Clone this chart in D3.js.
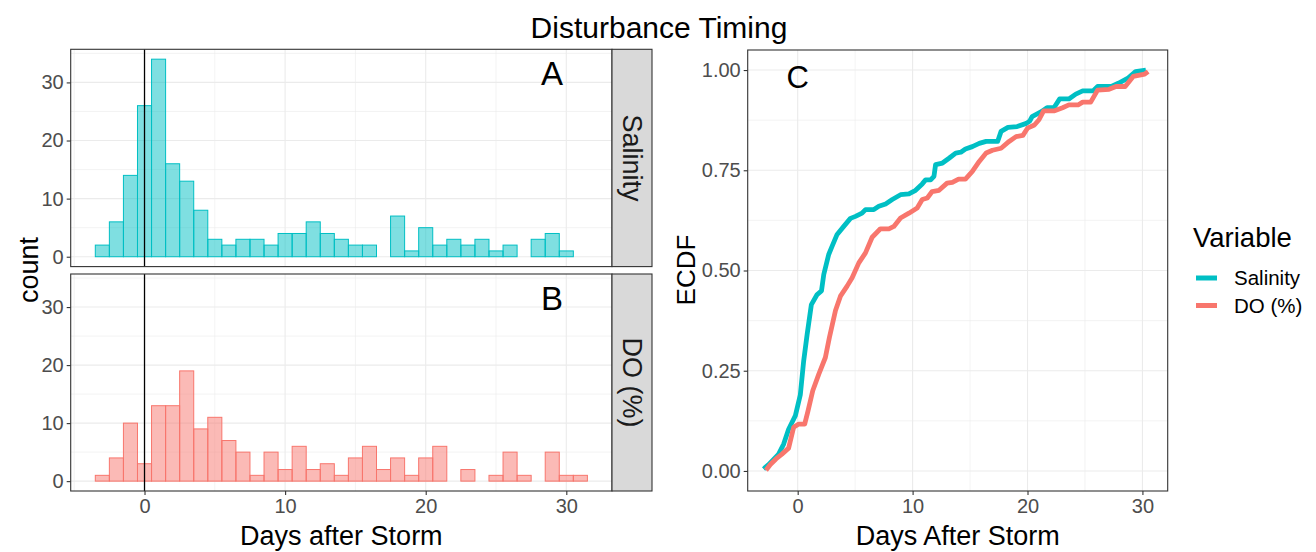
<!DOCTYPE html>
<html>
<head>
<meta charset="utf-8">
<title>Disturbance Timing</title>
<script src="https://cdn.jsdelivr.net/npm/d3@7"></script>
<style>
  body { margin: 0; background: #fff; }
  text { font-family: "Liberation Sans", Arial, sans-serif; }
</style>
</head>
<body>
<script>
// histogram bins: one day wide, starting at -3.5 days
var binStart = -3.5, binWidth = 1;
var salinityCounts = [2, 6, 14, 26, 34, 16, 13, 8, 3, 2, 3, 3, 2, 4, 4, 6, 4, 3, 2, 2, 0, 7, 1, 5, 2, 3, 2, 3, 1, 2, 0, 3, 4, 1, 0];
var doCounts = [1, 4, 10, 3, 13, 13, 19, 9, 11, 7, 5, 1, 5, 2, 6, 2, 3, 1, 4, 6, 2, 4, 1, 4, 6, 0, 2, 0, 1, 5, 1, 0, 5, 1, 1];

// ECDF curves
var salinityDays = [-2.97, -2.53, -1.66, -1.22, -0.79, -0.2, 0.23, 0.52, 0.82, 1.19, 1.69, 2.07, 2.27, 2.7, 2.99, 3.43, 4.01, 4.59, 5.03, 5.6, 5.9, 6.63, 7.06, 7.65, 8.23, 8.95, 9.68, 10.26, 10.84, 11.13, 11.57, 11.86, 12.0, 12.6, 13.17, 13.75, 14.2, 14.6, 15.2, 15.8, 16.4, 17.4, 17.7, 18.3, 19.1, 19.9, 20.2, 20.4, 21.2, 21.7, 22.3, 22.8, 23.6, 24.2, 24.8, 25.7, 26.1, 27.3, 27.9, 28.7, 29.4, 30.3];
var salinityEcdf = [0.005, 0.016, 0.042, 0.067, 0.104, 0.138, 0.19, 0.274, 0.34, 0.415, 0.44, 0.449, 0.49, 0.54, 0.56, 0.59, 0.61, 0.63, 0.635, 0.643, 0.652, 0.652, 0.66, 0.666, 0.677, 0.689, 0.691, 0.70, 0.716, 0.726, 0.726, 0.735, 0.764, 0.768, 0.78, 0.793, 0.795, 0.803, 0.809, 0.817, 0.822, 0.822, 0.847, 0.857, 0.859, 0.867, 0.873, 0.884, 0.896, 0.906, 0.906, 0.928, 0.928, 0.94, 0.948, 0.948, 0.959, 0.959, 0.967, 0.979, 0.996, 1.0];
var doDays = [-2.76, -2.38, -1.89, -1.37, -0.79, -0.35, 0.09, 0.61, 0.9, 1.31, 1.83, 2.41, 2.76, 3.29, 3.72, 4.3, 4.74, 5.32, 5.9, 6.48, 7.2, 7.94, 8.37, 8.95, 9.68, 10.4, 10.84, 11.28, 11.7, 12.3, 13.0, 13.46, 14.0, 14.6, 15.2, 15.8, 16.4, 16.95, 17.7, 18.4, 19.0, 19.6, 20.0, 20.6, 21.0, 21.4, 22.3, 23.05, 23.6, 24.4, 24.8, 25.5, 26.1, 27.1, 27.7, 28.5, 29.2, 30.2, 30.5];
var doEcdf = [0.002, 0.016, 0.03, 0.042, 0.057, 0.109, 0.117, 0.117, 0.15, 0.2, 0.241, 0.283, 0.333, 0.4, 0.436, 0.461, 0.482, 0.519, 0.544, 0.583, 0.604, 0.604, 0.61, 0.631, 0.643, 0.656, 0.677, 0.681, 0.697, 0.70, 0.718, 0.72, 0.728, 0.728, 0.747, 0.772, 0.793, 0.8, 0.805, 0.822, 0.834, 0.837, 0.855, 0.863, 0.876, 0.898, 0.898, 0.906, 0.913, 0.913, 0.92, 0.92, 0.95, 0.952, 0.959, 0.959, 0.984, 0.99, 0.996];

var variables = ["Salinity", "DO (%)"];
var colors = ["#00BFC4", "#F8766D"];
var panelLetters = ["A", "B"];

var W = 1316, H = 552;
var svg = d3.select("body").append("svg").attr("width", W).attr("height", H);

var gridCol = "#ebebeb", borderCol = "#333333", tickCol = "#4d4d4d";

// ---- histograms ----
var hx = d3.scaleLinear().domain([-5.25, 33.25]).range([70.7, 612]);
var panels = [{top: 49.3, bottom: 266.6}, {top: 274, bottom: 491}];
var countsList = [salinityCounts, doCounts];

panels.forEach(function(p, k) {
    var y = d3.scaleLinear().domain([-1.7, 35.7]).range([p.bottom, p.top]);
    var g = svg.append("g");
    g.append("rect").attr("x", hx.range()[0]).attr("y", p.top)
        .attr("width", hx.range()[1] - hx.range()[0]).attr("height", p.bottom - p.top).attr("fill", "#fff");
    // minor grid
    [-5, 5, 15, 25].forEach(function(v) {
        g.append("line").attr("x1", hx(v)).attr("x2", hx(v)).attr("y1", p.top).attr("y2", p.bottom)
            .attr("stroke", gridCol).attr("stroke-width", 0.6);
    });
    [5, 15, 25, 35].forEach(function(v) {
        g.append("line").attr("x1", hx.range()[0]).attr("x2", hx.range()[1]).attr("y1", y(v)).attr("y2", y(v))
            .attr("stroke", gridCol).attr("stroke-width", 0.6);
    });
    // major grid
    [0, 10, 20, 30].forEach(function(v) {
        g.append("line").attr("x1", hx(v)).attr("x2", hx(v)).attr("y1", p.top).attr("y2", p.bottom)
            .attr("stroke", gridCol).attr("stroke-width", 1.1);
        g.append("line").attr("x1", hx.range()[0]).attr("x2", hx.range()[1]).attr("y1", y(v)).attr("y2", y(v))
            .attr("stroke", gridCol).attr("stroke-width", 1.1);
    });
    // bars
    var bins = countsList[k].map(function(c, i) {
        return {x0: binStart + i * binWidth, x1: binStart + (i + 1) * binWidth, n: c};
    });
    g.selectAll("rect.bar").data(bins).enter().append("rect").attr("class", "bar")
        .attr("x", function(d) { return hx(d.x0); })
        .attr("width", function(d) { return hx(d.x1) - hx(d.x0); })
        .attr("y", function(d) { return y(d.n); })
        .attr("height", function(d) { return y(0) - y(d.n); })
        .attr("fill", colors[k]).attr("fill-opacity", 0.5)
        .attr("stroke", colors[k]).attr("stroke-width", 1);
    // storm line
    g.append("line").attr("x1", hx(0)).attr("x2", hx(0)).attr("y1", p.top).attr("y2", p.bottom)
        .attr("stroke", "#000").attr("stroke-width", 1.3);
    g.append("text").attr("x", 552).attr("y", k == 0 ? 85 : 310).attr("text-anchor", "middle")
        .attr("font-size", 33).text(panelLetters[k]);
    // border
    g.append("rect").attr("x", hx.range()[0]).attr("y", p.top)
        .attr("width", hx.range()[1] - hx.range()[0]).attr("height", p.bottom - p.top)
        .attr("fill", "none").attr("stroke", borderCol).attr("stroke-width", 1.1);
    // strip
    g.append("rect").attr("x", 612).attr("y", p.top).attr("width", 40).attr("height", p.bottom - p.top)
        .attr("fill", "#d9d9d9").attr("stroke", borderCol).attr("stroke-width", 1.1);
    var cy = (p.top + p.bottom) / 2;
    g.append("text").attr("transform", "translate(632," + cy + ") rotate(90)")
        .attr("text-anchor", "middle").attr("dy", "0.35em").attr("font-size", 27).attr("fill", "#1a1a1a")
        .text(variables[k]);
    // y axis
    var ya = g.append("g").attr("transform", "translate(" + hx.range()[0] + ",0)")
        .call(d3.axisLeft(y).tickValues([0, 10, 20, 30]).tickSize(4).tickPadding(3));
    ya.select(".domain").remove();
    ya.selectAll("line").attr("stroke", borderCol).attr("stroke-width", 1.1);
    ya.selectAll("text").attr("font-size", 20).attr("fill", tickCol).attr("font-family", null);
});
var hxa = svg.append("g").attr("transform", "translate(0," + panels[1].bottom + ")")
    .call(d3.axisBottom(hx).tickValues([0, 10, 20, 30]).tickSize(4).tickPadding(4));
hxa.select(".domain").remove();
hxa.selectAll("line").attr("stroke", borderCol).attr("stroke-width", 1.1);
hxa.selectAll("text").attr("font-size", 20).attr("fill", tickCol).attr("font-family", null);

svg.append("text").attr("x", (70.7 + 612) / 2).attr("y", 545).attr("text-anchor", "middle")
    .attr("font-size", 27).text("Days after Storm");
svg.append("text").attr("transform", "translate(38,270) rotate(-90)").attr("text-anchor", "middle")
    .attr("font-size", 27).text("count");

// ---- ECDF ----
var ex = d3.scaleLinear().domain([-4.35, 32.2]).range([747.7, 1167.7]);
var ey = d3.scaleLinear().domain([-0.05, 1.05]).range([491, 50]);
var ec = svg.append("g");
ec.append("rect").attr("x", 747.7).attr("y", 50).attr("width", 420).attr("height", 441).attr("fill", "#fff");
[5, 15, 25].forEach(function(v) {
    ec.append("line").attr("x1", ex(v)).attr("x2", ex(v)).attr("y1", 50).attr("y2", 491)
        .attr("stroke", gridCol).attr("stroke-width", 0.6);
});
[0.125, 0.375, 0.625, 0.875].forEach(function(v) {
    ec.append("line").attr("x1", 747.7).attr("x2", 1167.7).attr("y1", ey(v)).attr("y2", ey(v))
        .attr("stroke", gridCol).attr("stroke-width", 0.6);
});
[0, 10, 20, 30].forEach(function(v) {
    ec.append("line").attr("x1", ex(v)).attr("x2", ex(v)).attr("y1", 50).attr("y2", 491)
        .attr("stroke", gridCol).attr("stroke-width", 1.1);
});
[0, 0.25, 0.5, 0.75, 1].forEach(function(v) {
    ec.append("line").attr("x1", 747.7).attr("x2", 1167.7).attr("y1", ey(v)).attr("y2", ey(v))
        .attr("stroke", gridCol).attr("stroke-width", 1.1);
});
var line = d3.line().x(function(d) { return ex(d[0]); }).y(function(d) { return ey(d[1]); });
var curves = [d3.zip(salinityDays, salinityEcdf), d3.zip(doDays, doEcdf)];
curves.forEach(function(c, k) {
    ec.append("path").attr("d", line(c)).attr("fill", "none").attr("stroke", colors[k])
        .attr("stroke-width", 4.8).attr("stroke-linejoin", "round");
});
ec.append("text").attr("x", ex(0)).attr("y", 88).attr("text-anchor", "middle").attr("font-size", 31).text("C");
ec.append("rect").attr("x", 747.7).attr("y", 50).attr("width", 420).attr("height", 441)
    .attr("fill", "none").attr("stroke", borderCol).attr("stroke-width", 1.1);
var eya = ec.append("g").attr("transform", "translate(747.7,0)")
    .call(d3.axisLeft(ey).tickValues([0, 0.25, 0.5, 0.75, 1]).tickFormat(d3.format(".2f")).tickSize(4).tickPadding(3));
eya.select(".domain").remove();
eya.selectAll("line").attr("stroke", borderCol).attr("stroke-width", 1.1);
eya.selectAll("text").attr("font-size", 20).attr("fill", tickCol).attr("font-family", null);
var exa = ec.append("g").attr("transform", "translate(0,491)")
    .call(d3.axisBottom(ex).tickValues([0, 10, 20, 30]).tickSize(4).tickPadding(4));
exa.select(".domain").remove();
exa.selectAll("line").attr("stroke", borderCol).attr("stroke-width", 1.1);
exa.selectAll("text").attr("font-size", 20).attr("fill", tickCol).attr("font-family", null);
svg.append("text").attr("x", 957.7).attr("y", 545).attr("text-anchor", "middle")
    .attr("font-size", 27).text("Days After Storm");
svg.append("text").attr("transform", "translate(695,270) rotate(-90)").attr("text-anchor", "middle")
    .attr("font-size", 26).text("ECDF");

// ---- legend ----
var lg = svg.append("g").attr("transform", "translate(1193,0)");
lg.append("text").attr("x", 0).attr("y", 247).attr("font-size", 27.5).text("Variable");
variables.forEach(function(v, k) {
    var yy = 278 + k * 27.5;
    lg.append("line").attr("x1", 3).attr("x2", 24).attr("y1", yy).attr("y2", yy)
        .attr("stroke", colors[k]).attr("stroke-width", 5);
    lg.append("text").attr("x", 41).attr("y", yy).attr("dy", "0.35em").attr("font-size", 20.5).text(v);
});

// ---- title ----
svg.append("text").attr("x", 659).attr("y", 38).attr("text-anchor", "middle")
    .attr("font-size", 30).text("Disturbance Timing");
</script>
</body>
</html>
